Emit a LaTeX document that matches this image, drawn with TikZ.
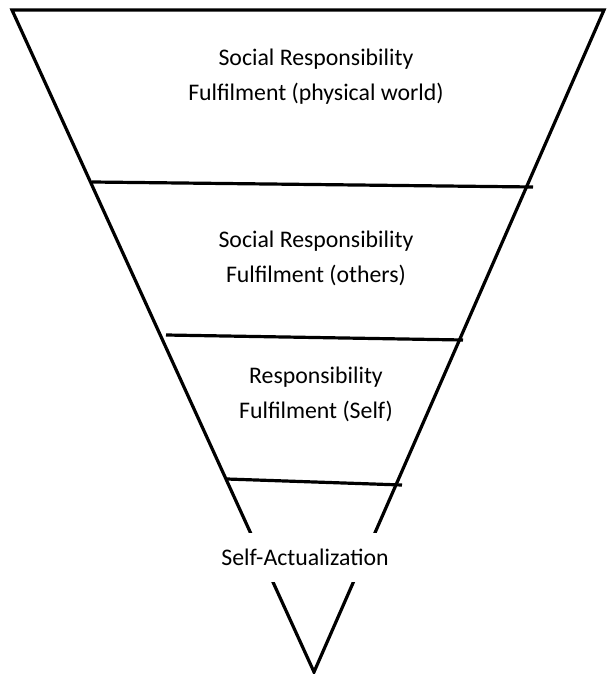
\documentclass[tikz,border=0pt]{standalone}
\usepackage{fontspec}
\setmainfont{Carlito}
\usetikzlibrary{positioning}

\begin{document}
\begin{tikzpicture} [x=1pt,y=-1pt,line width=3.2pt,line join=miter]
    \tikzset {
      layer/.style={align=center,font=\fontsize{23.8}{35}\selectfont},
      divider/.style={line width=3.2pt}
    }
    \useasboundingbox (0,0) rectangle (606,674);
    \coordinate (tl) at (12,10);
    \coordinate (tr) at (604,10);
    \coordinate (apex) at (314,672);
    % the funnel
    \draw (tl) -- (tr) -- (apex) -- cycle;
    % dividers between the layers
    \coordinate (d1l) at (92,182);
    \coordinate (d1r) at (533,187);
    \coordinate (d2l) at (166,335);
    \coordinate (d2r) at (463,340);
    \coordinate (d3l) at (227,479);
    \coordinate (d3r) at (402,485);
    \draw [divider] (d1l) -- (d1r);
    \draw [divider] (d2l) -- (d2r);
    \draw [divider] (d3l) -- (d3r);
    % labels
    \node [layer] (world) at (316,77) {Social Responsibility\\Fulfilment (physical world)};
    \node [layer] (others) at (316,258) {Social Responsibility\\Fulfilment (others)};
    \node [layer] (self) at (316,394) {Responsibility\\Fulfilment (Self)};
    \node [layer, fill=white, minimum height=49pt, inner xsep=6pt] (actual) at (305,557.5) {Self-Actualization};
\end{tikzpicture}
\end{document}
